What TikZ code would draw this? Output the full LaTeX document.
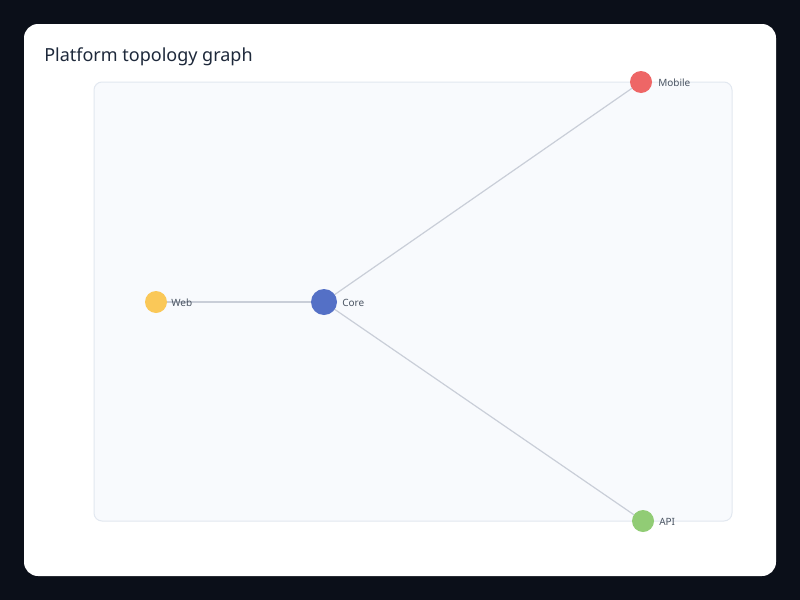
\documentclass[tikz,border=0pt]{standalone}
\usepackage{fontspec}
\setmainfont{Noto Sans}
\definecolor{bgdark}{HTML}{0B0F19}
\definecolor{panelfill}{HTML}{F8FAFD}
\definecolor{panelline}{HTML}{E2E8F0}
\definecolor{edgecol}{HTML}{C9CED8}
\definecolor{labelcol}{HTML}{4B5563}
\definecolor{titlecol}{HTML}{1E293B}
\definecolor{cblue}{HTML}{5470C6}
\definecolor{cgreen}{HTML}{91CC75}
\definecolor{cyellow}{HTML}{FAC858}
\definecolor{cred}{HTML}{EE6666}
\begin{document}
\begin{tikzpicture}[x=0.75pt,y=-0.75pt,
  dot/.style={circle,inner sep=0pt,draw=none},
  lbl/.style={font=\fontsize{7.5pt}{9pt}\selectfont,text=labelcol,anchor=west,inner sep=0pt},
  edge/.style={draw=edgecol,line width=0.9pt}]
\fill[bgdark] (0,0) rectangle (800,600);
\useasboundingbox (0,0) rectangle (800,600);
\fill[white,rounded corners=10.5pt] (24,24) rectangle (776,576);
\node[anchor=west,inner sep=0pt,font=\fontsize{13.5pt}{16pt}\selectfont,text=titlecol] (title) at (44,56.5) {Platform topology graph};
\draw[panelline,fill=panelfill,line width=0.75pt,rounded corners=6pt] (94,82) rectangle (732,521);
\coordinate (pm) at (641,82);
\coordinate (pw) at (156,302);
\coordinate (pc) at (324,302);
\coordinate (pa) at (643,521);
\draw[edge] (pw) -- (pc);
\draw[edge] (pc) -- (pm);
\draw[edge] (pc) -- (pa);
\node[dot,fill=cred,minimum size=16.5pt] (mobile) at (pm) {};
\node[dot,fill=cyellow,minimum size=16.5pt] (web) at (pw) {};
\node[dot,fill=cblue,minimum size=19.5pt] (core) at (pc) {};
\node[dot,fill=cgreen,minimum size=16.5pt] (api) at (pa) {};
\node[lbl] (lmobile) at (658,83) {Mobile};
\node[lbl] (lweb) at (171,303) {Web};
\node[lbl] (lcore) at (342,303) {Core};
\node[lbl] (lapi) at (659,522) {API};
\end{tikzpicture}
\end{document}
